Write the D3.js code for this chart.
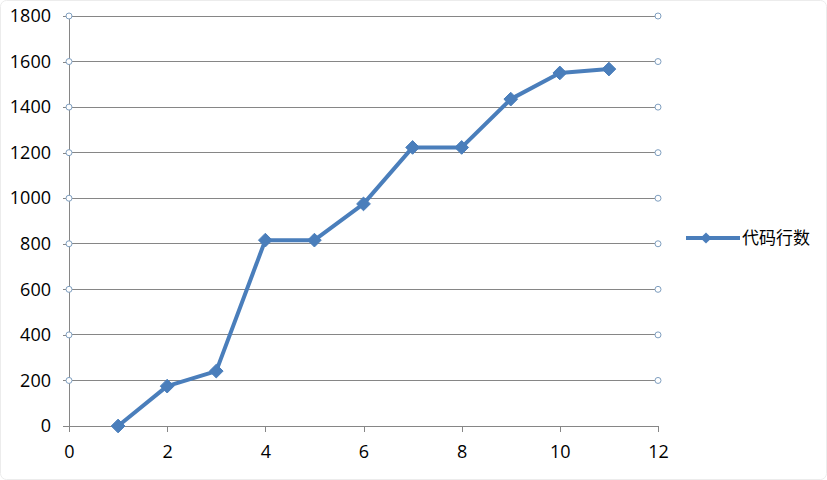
<!DOCTYPE html>
<html><head><meta charset="utf-8">
<script src="https://cdn.jsdelivr.net/npm/d3@7"></script>
<style>body{margin:0;background:#fff}svg{display:block}</style>
</head><body>
<script>
const xValues = [1,2,3,4,5,6,7,8,9,10,11];
const lineCounts = [0,175,241,816,816,975,1223,1223,1435,1550,1567];
const seriesName = "代码行数";
const xTicks = [0,2,4,6,8,10,12];
const yTicks = [0,200,400,600,800,1000,1200,1400,1600,1800];

const W=827,H=480;
const svg=d3.select("body").append("svg").attr("width",W).attr("height",H);
svg.append("rect").attr("x",0.5).attr("y",0.5).attr("width",W-1).attr("height",H-1)
  .attr("rx",6).attr("fill","#fff").attr("stroke","#ececec");
const x=d3.scaleLinear().domain([0,12]).range([69,658]);
const y=d3.scaleLinear().domain([0,1800]).range([426,16]);
const font="'Open Sans', 'Noto Sans', sans-serif";
const grid="#868686";

// gridlines
svg.append("g").selectAll("line").data(yTicks.filter(d=>d>0)).join("line")
  .attr("x1",x(0)).attr("x2",x(12)).attr("y1",d=>y(d)).attr("y2",d=>y(d))
  .attr("stroke",grid).attr("stroke-width",1).attr("shape-rendering","crispEdges");

// y axis
const ya=svg.append("g").attr("transform",`translate(${x(0)},0)`)
  .call(d3.axisLeft(y).tickValues(yTicks).tickFormat(d3.format("d")).tickSize(6).tickPadding(12));
ya.select(".domain").attr("stroke",grid).attr("d",`M-0,${y(1800)}V${y(0)}`);
ya.selectAll(".tick line").attr("stroke",grid);
ya.selectAll("text").attr("font-family",font).attr("font-size",18).attr("fill","#000");

// x axis
const xa=svg.append("g").attr("transform",`translate(0,${y(0)})`)
  .call(d3.axisBottom(x).tickValues(xTicks).tickFormat(d3.format("d")).tickSize(6).tickPadding(13));
xa.select(".domain").attr("stroke",grid).attr("d",`M${x(0)},0H${x(12)}`);
xa.selectAll(".tick line").attr("stroke",grid);
xa.selectAll("text").attr("font-family",font).attr("font-size",18).attr("fill","#000");
svg.selectAll(".domain, .tick line").attr("shape-rendering","crispEdges");

// end circles on gridlines
const circ=svg.append("g");
[0,12].forEach(xv=>{
  circ.selectAll(null).data(yTicks.filter(d=>d>0)).join("circle")
   .attr("cx",x(xv)).attr("cy",d=>y(d)).attr("r",3)
   .attr("fill","#fff").attr("stroke","#7f9fc0").attr("stroke-width",1);
});

// series
const data=xValues.map((v,i)=>({x:v,y:lineCounts[i]}));
const color="#4a7ebb";
svg.append("path").datum(data)
  .attr("d",d3.line().x(d=>x(d.x)).y(d=>y(d.y)))
  .attr("fill","none").attr("stroke",color).attr("stroke-width",4).attr("stroke-linejoin","round");
const diamond=d3.symbol().type(d3.symbolDiamond2).size(120);
svg.append("g").selectAll("path").data(data).join("path")
  .attr("d",diamond).attr("transform",d=>`translate(${x(d.x)},${y(d.y)})`)
  .attr("fill",color).attr("stroke",color).attr("stroke-width",1);

// legend
const lg=svg.append("g").attr("transform","translate(686,238)");
lg.append("line").attr("x1",0).attr("x2",54).attr("y1",0).attr("y2",0)
  .attr("stroke",color).attr("stroke-width",4);
lg.append("path").attr("d",d3.symbol().type(d3.symbolDiamond2).size(80)).attr("transform","translate(20,0)")
  .attr("fill",color);
lg.append("text").attr("x",56).attr("y",6).text(seriesName)
  .attr("font-family","'Noto Sans CJK SC', sans-serif").attr("font-size",17).attr("fill","#000");
</script>
</body></html>
